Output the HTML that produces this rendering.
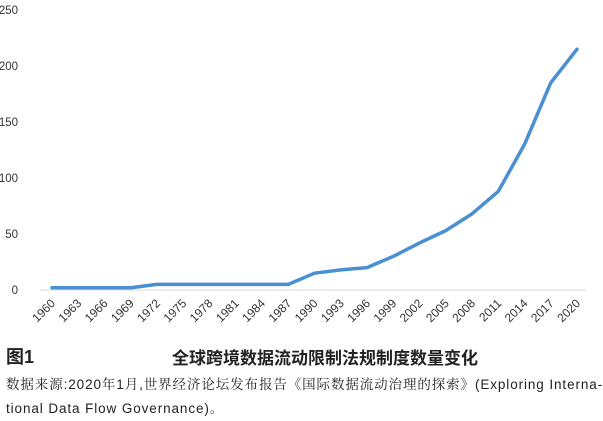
<!DOCTYPE html>
<html><head><meta charset="utf-8"><style>
body{margin:0;background:#fff;width:603px;height:418px;overflow:hidden;font-family:"Liberation Sans","Noto Sans CJK SC",sans-serif}
svg{position:absolute;left:0;top:0}
.cap{position:absolute;color:#222;white-space:nowrap}
</style></head><body>
<svg width="603" height="330">
<g id="g"></g>
</svg>
<div class="cap" style="left:6px;top:343px;font-size:18px;font-weight:bold">图1</div>
<div class="cap" style="left:172px;top:344px;font-size:17px;font-weight:bold">全球跨境数据流动限制法规制度数量变化</div>
<div class="cap" style="left:6px;top:373px;font-size:13.5px;line-height:24px;letter-spacing:0.9px;font-family:'Liberation Sans','Noto Serif CJK SC',serif">数据来源:2020年1月,世界经济论坛发布报告《国际数据流动治理的探索》(Exploring Interna-<br>tional Data Flow Governance)。</div>
<script>
const years=["1960","1963","1966","1969","1972","1975","1978","1981","1984","1987","1990","1993","1996","1999","2002","2005","2008","2011","2014","2017","2020"];
const values=[2,2,2,2,5,5,5,5,5,5,15,18,20,30,42,53,68,88,130,185,215];
const yTicks=[0,50,100,150,200,250];
const NS="http://www.w3.org/2000/svg";
const g=document.getElementById('g');
const x0=52,x1=577,yb=290,yt=10;
const xs=i=>x0+(x1-x0)*i/(years.length-1);
const ys=v=>yb-(yb-yt)*v/250;
function mk(t,a){const e=document.createElementNS(NS,t);for(const k in a)e.setAttribute(k,a[k]);g.appendChild(e);return e;}
const ax=mk('line',{x1:40,x2:586,y1:yb,y2:yb,stroke:'#d9d9d9','stroke-width':1});


yTicks.forEach(v=>{const t=mk('text',{x:18,y:ys(v)+4,'text-anchor':'end','font-size':11.5,fill:'#333'});t.textContent=v;

});
years.forEach((y,i)=>{const X=xs(i)+4,Y=yb+14;const t=mk('text',{x:X,y:Y,'text-anchor':'end','font-size':12,fill:'#333',transform:`rotate(-45 ${X} ${Y})`});t.textContent=y;

});
const p=mk('polyline',{points:values.map((v,i)=>xs(i)+','+ys(v)).join(' '),fill:'none',stroke:'#4a8fd1','stroke-width':3.5,'stroke-linejoin':'round','stroke-linecap':'round'});


</script>
</body></html>
